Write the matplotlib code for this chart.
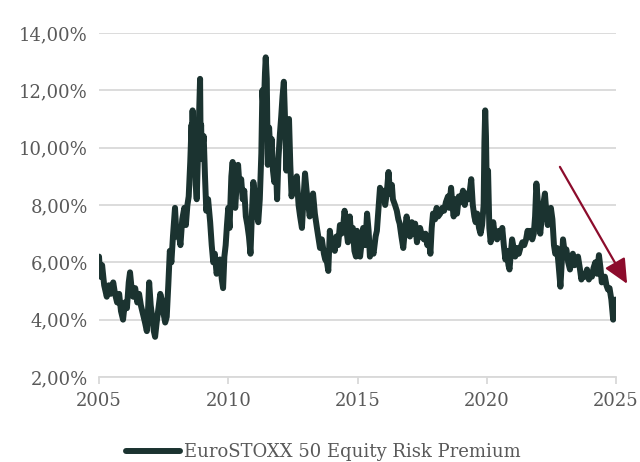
import matplotlib
matplotlib.use("Agg")
import matplotlib.pyplot as plt
from matplotlib.ticker import FuncFormatter

# ---- data (decimal year, equity risk premium in %) ----
years = [
    2005.00, 2005.05, 2005.12, 2005.20, 2005.30, 2005.38, 2005.45, 2005.55, 2005.62, 2005.70,
    2005.78, 2005.85, 2005.93, 2006.00, 2006.08, 2006.15, 2006.20, 2006.27, 2006.32, 2006.40,
    2006.48, 2006.55, 2006.62, 2006.70, 2006.78, 2006.85, 2006.90, 2006.94, 2007.00, 2007.07,
    2007.12, 2007.17, 2007.23, 2007.30, 2007.37, 2007.43, 2007.50, 2007.56, 2007.62, 2007.68,
    2007.74, 2007.80, 2007.86, 2007.94, 2008.00, 2008.07, 2008.15, 2008.22, 2008.30, 2008.36,
    2008.42, 2008.47, 2008.53, 2008.58, 2008.60, 2008.62, 2008.64, 2008.66, 2008.70, 2008.74,
    2008.78, 2008.83, 2008.88, 2008.91, 2008.93, 2008.95, 2008.98, 2009.00, 2009.05, 2009.10,
    2009.15, 2009.22, 2009.30, 2009.36, 2009.42, 2009.48, 2009.55, 2009.62, 2009.68, 2009.75,
    2009.80, 2009.85, 2009.90, 2009.95, 2010.00, 2010.05, 2010.12, 2010.17, 2010.22, 2010.27,
    2010.33, 2010.38, 2010.44, 2010.50, 2010.56, 2010.62, 2010.68, 2010.74, 2010.80, 2010.86,
    2010.92, 2010.97, 2011.03, 2011.10, 2011.16, 2011.22, 2011.28, 2011.32, 2011.37, 2011.42,
    2011.45, 2011.49, 2011.53, 2011.58, 2011.63, 2011.68, 2011.73, 2011.78, 2011.84, 2011.89,
    2011.94, 2012.00, 2012.05, 2012.10, 2012.15, 2012.20, 2012.25, 2012.30, 2012.35, 2012.40,
    2012.45, 2012.52, 2012.58, 2012.65, 2012.72, 2012.78, 2012.85, 2012.91, 2012.97, 2013.03,
    2013.10, 2013.15, 2013.22, 2013.28, 2013.35, 2013.43, 2013.50, 2013.55, 2013.62, 2013.70,
    2013.75, 2013.82, 2013.87, 2013.93, 2013.98, 2014.05, 2014.12, 2014.18, 2014.25, 2014.32,
    2014.38, 2014.45, 2014.50, 2014.56, 2014.63, 2014.70, 2014.76, 2014.82, 2014.88, 2014.94,
    2014.98, 2015.05, 2015.10, 2015.17, 2015.22, 2015.30, 2015.37, 2015.43, 2015.48, 2015.55,
    2015.62, 2015.70, 2015.75, 2015.82, 2015.87, 2015.93, 2016.00, 2016.07, 2016.13, 2016.20,
    2016.26, 2016.33, 2016.37, 2016.45, 2016.52, 2016.58, 2016.63, 2016.70, 2016.77, 2016.83,
    2016.90, 2016.97, 2017.03, 2017.10, 2017.17, 2017.23, 2017.30, 2017.36, 2017.42, 2017.50,
    2017.57, 2017.63, 2017.70, 2017.76, 2017.82, 2017.87, 2017.92, 2018.00, 2018.06, 2018.12,
    2018.20, 2018.28, 2018.35, 2018.42, 2018.50, 2018.55, 2018.62, 2018.67, 2018.72, 2018.78,
    2018.85, 2018.92, 2019.00, 2019.08, 2019.15, 2019.22, 2019.30, 2019.36, 2019.40, 2019.46,
    2019.52, 2019.57, 2019.63, 2019.70, 2019.76, 2019.82, 2019.88, 2019.91, 2019.94, 2019.97,
    2020.00, 2020.05, 2020.10, 2020.15, 2020.20, 2020.25, 2020.32, 2020.40, 2020.47, 2020.55,
    2020.60, 2020.66, 2020.72, 2020.78, 2020.84, 2020.88, 2020.93, 2020.98, 2021.04, 2021.10,
    2021.17, 2021.24, 2021.30, 2021.38, 2021.45, 2021.52, 2021.58, 2021.64, 2021.70, 2021.76,
    2021.82, 2021.87, 2021.92, 2021.96, 2022.02, 2022.07, 2022.13, 2022.20, 2022.25, 2022.30,
    2022.36, 2022.42, 2022.48, 2022.54, 2022.60, 2022.65, 2022.72, 2022.78, 2022.85, 2022.90,
    2022.95, 2023.02, 2023.08, 2023.15, 2023.22, 2023.28, 2023.33, 2023.40, 2023.47, 2023.53,
    2023.60, 2023.66, 2023.72, 2023.80, 2023.88, 2023.95, 2024.02, 2024.07, 2024.13, 2024.20,
    2024.27, 2024.34, 2024.40, 2024.45, 2024.52, 2024.57, 2024.63, 2024.69, 2024.75, 2024.82,
    2024.86, 2024.89, 2024.93, 2024.97, 2025.00,
]
erp = [
    6.2, 5.5, 5.9, 5.2, 4.8, 5.2, 4.9, 5.3, 4.9, 4.6,
    4.9, 4.3, 4.0, 4.6, 4.4, 5.3, 5.65, 5.0, 4.8, 5.1,
    4.6, 4.9, 4.5, 4.2, 3.9, 3.6, 4.4, 5.3, 4.5, 4.0,
    3.6, 3.4, 3.9, 4.4, 4.9, 4.7, 4.2, 3.9, 4.1, 5.2,
    6.4, 6.0, 6.9, 7.9, 6.9, 7.1, 6.6, 7.5, 7.9, 7.3,
    8.0, 8.3, 9.5, 10.8, 9.8, 11.3, 10.2, 10.6, 10.9, 8.7,
    8.2, 9.8, 11.5, 12.4, 10.2, 10.8, 9.6, 10.0, 10.4, 9.0,
    7.8, 8.2, 7.4, 6.6, 6.0, 6.3, 5.6, 5.9, 6.1, 5.4,
    5.1, 6.2, 6.6, 7.3, 7.9, 7.2, 9.0, 9.5, 8.4, 7.9,
    8.8, 9.4, 8.6, 8.9, 8.2, 8.5, 7.6, 7.3, 6.9, 6.3,
    7.8, 8.8, 8.4, 7.7, 7.4, 8.2, 9.8, 12.0, 11.2, 12.6,
    13.15, 12.4, 9.4, 10.7, 9.8, 10.3, 9.2, 8.8, 9.4, 8.2,
    9.6, 10.5, 11.1, 11.8, 12.3, 10.9, 9.2, 10.6, 11.0, 9.4,
    8.3, 8.9, 8.6, 9.0, 8.0, 7.6, 7.2, 8.2, 9.1, 8.5,
    8.0, 7.6, 8.1, 8.4, 7.7, 7.2, 6.8, 6.5, 6.8, 6.3,
    6.1, 6.0, 5.7, 7.1, 6.7, 6.8, 6.4, 6.9, 6.6, 7.3,
    7.0, 7.3, 7.8, 7.2, 6.7, 7.6, 6.9, 7.2, 6.4, 6.2,
    7.1, 6.5, 6.2, 6.8, 7.2, 6.6, 7.7, 7.1, 6.2, 6.5,
    6.3, 6.9, 7.1, 8.0, 8.6, 8.2, 8.5, 8.0, 8.4, 9.15,
    8.4, 8.7, 8.2, 8.0, 7.8, 7.5, 7.35, 6.9, 6.5, 7.1,
    7.6, 7.1, 6.9, 7.4, 7.0, 7.35, 6.7, 7.0, 7.2, 6.9,
    6.8, 7.0, 6.6, 6.8, 6.3, 7.2, 7.7, 7.5, 7.9, 7.6,
    7.7, 7.9, 7.8, 8.1, 8.3, 7.9, 8.6, 8.0, 7.6, 8.2,
    7.7, 8.3, 8.1, 8.5, 8.0, 8.4, 8.2, 8.6, 8.9, 8.0,
    7.6, 7.4, 7.7, 7.2, 7.0, 7.3, 8.0, 10.2, 11.3, 10.4,
    8.6, 9.2, 7.2, 6.7, 7.0, 7.4, 6.9, 6.8, 7.1, 6.9,
    7.2, 6.6, 6.1, 6.4, 5.9, 5.75, 6.3, 6.8, 6.5, 6.2,
    6.5, 6.3, 6.5, 6.7, 6.6, 6.8, 7.1, 6.9, 7.1, 6.8,
    7.0, 7.6, 8.75, 8.3, 7.4, 7.0, 7.6, 8.1, 8.4, 7.8,
    7.3, 7.7, 7.9, 7.5, 6.6, 6.3, 6.5, 5.9, 5.15, 6.0,
    6.8, 6.3, 6.45, 6.0, 5.75, 6.1, 6.3, 5.9, 6.0, 6.2,
    5.8, 5.4, 5.6, 5.5, 5.75, 5.4, 5.6, 5.5, 5.8, 6.0,
    5.6, 6.25, 5.8, 5.3, 5.4, 5.5, 5.2, 5.05, 5.1, 4.7,
    4.3, 4.0, 4.4, 4.7, 4.5,
]
series_label = "EuroSTOXX 50 Equity Risk Premium"
x_ticks = [2005, 2010, 2015, 2020, 2025]
y_ticks = [2, 4, 6, 8, 10, 12, 14]
arrow_start = (2022.83, 9.33)
arrow_end = (2025.43, 5.25)

LINE = "#1b3330"
GRID = "#d9d9d9"
TXT = "#595959"
ARROW = "#8c0c2c"

plt.rcParams["font.family"] = ["DejaVu Serif"]

fig = plt.figure(figsize=(6.4, 4.62), dpi=100)
ax = fig.add_axes([0.1547, 0.184, 0.8078, 0.7446])

ax.plot(years, erp, color=LINE, lw=4.3, solid_joinstyle="round",
        solid_capstyle="round", label=series_label, zorder=3)

ax.set_xlim(2005, 2025)
ax.set_ylim(2, 14)
ax.set_xticks(x_ticks)
ax.set_yticks(y_ticks)
ax.yaxis.set_major_formatter(FuncFormatter(lambda v, p: f"{v:.2f}%".replace(".", ",")))
ax.grid(axis="y", color=GRID, lw=1.3, zorder=0)
for s in ["top", "right", "left"]:
    ax.spines[s].set_visible(False)
ax.spines["bottom"].set_color(GRID)
ax.spines["bottom"].set_linewidth(1.3)
ax.tick_params(axis="y", length=0, pad=8, labelsize=13, labelcolor=TXT)
ax.tick_params(axis="x", length=5, width=1.3, color=GRID, pad=6, labelsize=13, labelcolor=TXT)

ax.annotate("", xy=arrow_end, xytext=arrow_start,
            arrowprops=dict(arrowstyle="-|>,head_length=0.75,head_width=0.35",
                            color=ARROW, lw=1.6, mutation_scale=20,
                            shrinkA=0, shrinkB=0),
            annotation_clip=False, zorder=4)

fig.legend(loc="center", bbox_to_anchor=(0.505, 0.022), frameon=False,
           fontsize=13, labelcolor=TXT, handlelength=3.0, handletextpad=0.2)

fig.savefig("out.png", dpi=100)
